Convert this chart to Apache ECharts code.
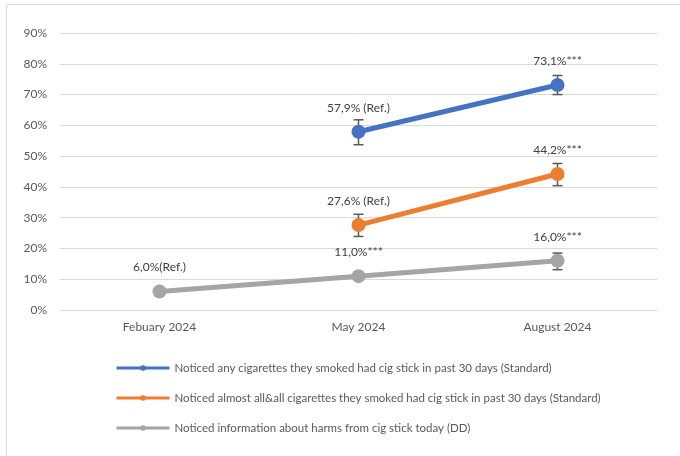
<!DOCTYPE html>
<html><head><meta charset="utf-8">
<script src="https://cdn.jsdelivr.net/npm/echarts@6/dist/echarts.min.js"></script>
<style>html,body{margin:0;padding:0;background:#fff}#c{width:680px;height:456px}</style>
</head><body><div id="c"></div>
<script>
const categories = ['Febuary 2024', 'May 2024', 'August 2024'];
const yTicks = [0, 10, 20, 30, 40, 50, 60, 70, 80, 90];
const seriesNames = [
  'Noticed any cigarettes they smoked had cig stick in past 30 days (Standard)',
  'Noticed almost all&all cigarettes they smoked had cig stick in past 30 days (Standard)',
  'Noticed information about harms from cig stick today (DD)'
];
const anyValues = [null, 57.9, 73.1];
const allValues = [null, 27.6, 44.2];
const harmValues = [6.0, 11.0, 16.0];
const anyLabels = ['', '57,9% (Ref.)', '73,1%***'];
const allLabels = ['', '27,6% (Ref.)', '44,2%***'];
const harmLabels = ['6,0%(Ref.)', '11,0%***', '16,0%***'];
// error bars: [categoryIndex, low, high]
const anyErr = [[1, 53.7, 61.8], [2, 70.0, 76.2]];
const allErr = [[1, 23.9, 31.1], [2, 40.4, 47.6]];
const harmErr = [[2, 13.1, 18.5]];

const colors = ['#4472C4', '#ED7D31', '#A5A5A5'];
const FONT = 'Lato';

function lineSeries(name, data, labels, color) {
  return {
    name, type: 'line', data, color,
    symbol: 'circle', symbolSize: 14, z: 3,
    lineStyle: { width: 5, color },
    itemStyle: { color },
    label: {
      show: true, position: 'top', distance: 11,
      color: '#404040', fontSize: 12, fontFamily: FONT,
      formatter: p => labels[p.dataIndex]
    },
    emphasis: { disabled: true }
  };
}
function errSeries(data) {
  return {
    type: 'custom', data, z: 2, silent: true,
    renderItem: (params, api) => {
      const x = api.value(0);
      const lo = api.coord([x, api.value(1)]);
      const hi = api.coord([x, api.value(2)]);
      const w = 5;
      const st = { stroke: '#595959', lineWidth: 1.5 };
      return { type: 'group', children: [
        { type: 'line', shape: { x1: lo[0], y1: lo[1], x2: hi[0], y2: hi[1] }, style: st },
        { type: 'line', shape: { x1: lo[0] - w, y1: lo[1], x2: lo[0] + w, y2: lo[1] }, style: st },
        { type: 'line', shape: { x1: hi[0] - w, y1: hi[1], x2: hi[0] + w, y2: hi[1] }, style: st }
      ]};
    },
    encode: { x: 0, y: [1, 2] }
  };
}

const chart = echarts.init(document.getElementById('c'), null, { renderer: 'canvas' });
chart.setOption({
  animation: false,
  backgroundColor: '#fff',
  textStyle: { fontFamily: FONT },
  graphic: [{ type: 'rect', shape: { x: 6.5, y: 4.5, width: 700, height: 470 },
    style: { fill: 'none', stroke: '#d9d9d9', lineWidth: 1 }, silent: true }],
  grid: { left: 60, right: 23, top: 33, bottom: 146 },
  legend: {
    orient: 'vertical', left: 115, top: 361, padding: 0,
    itemWidth: 53, itemHeight: 7, itemGap: 16,
    data: seriesNames,
    lineStyle: { width: 3 },
    textStyle: { color: '#595959', fontSize: 11.5, lineHeight: 14, fontFamily: FONT },
    selectedMode: false
  },
  xAxis: {
    type: 'category', data: categories, boundaryGap: true,
    axisLine: { show: false }, axisTick: { show: false },
    axisLabel: { color: '#595959', fontSize: 12, fontFamily: FONT, margin: 11 }
  },
  yAxis: {
    type: 'value', min: yTicks[0], max: yTicks[yTicks.length - 1], interval: 10,
    axisLabel: { color: '#595959', fontSize: 12, fontFamily: FONT, margin: 13,
      formatter: v => v + '%' },
    splitLine: { lineStyle: { color: '#d9d9d9', width: 1 } },
    axisLine: { show: false }, axisTick: { show: false }
  },
  series: [
    lineSeries(seriesNames[0], anyValues, anyLabels, colors[0]),
    lineSeries(seriesNames[1], allValues, allLabels, colors[1]),
    lineSeries(seriesNames[2], harmValues, harmLabels, colors[2]),
    errSeries(anyErr), errSeries(allErr), errSeries(harmErr)
  ]
});
</script></body></html>
